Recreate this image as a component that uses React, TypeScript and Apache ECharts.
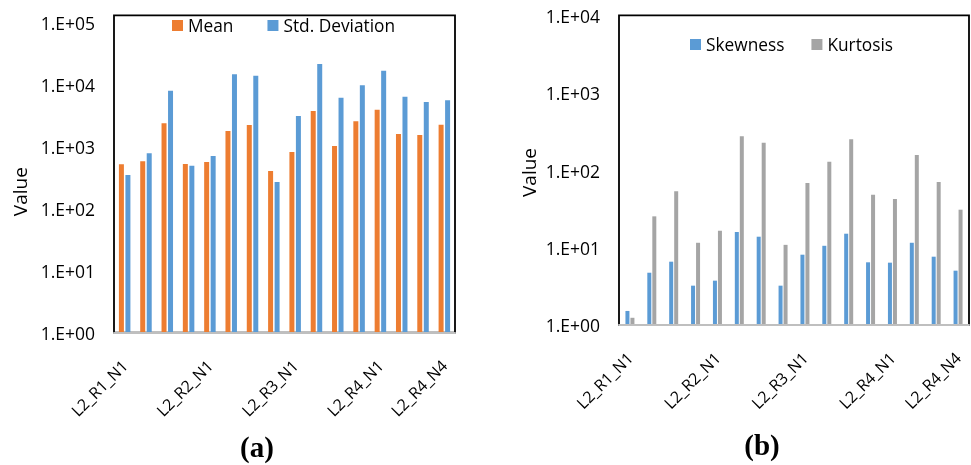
import React, { useEffect, useRef } from 'react';
import * as echarts from 'echarts';

const categories = [
  'L2_R1_N1', 'L2_R1_N2', 'L2_R1_N3', 'L2_R1_N4',
  'L2_R2_N1', 'L2_R2_N2', 'L2_R2_N3', 'L2_R2_N4',
  'L2_R3_N1', 'L2_R3_N2', 'L2_R3_N3', 'L2_R3_N4',
  'L2_R4_N1', 'L2_R4_N2', 'L2_R4_N3', 'L2_R4_N4',
];
const meanValues = [520, 582, 2385, 526, 567, 1791, 2239, 405, 822, 3767, 1026, 2570, 3953, 1603, 1545, 2264];
const stdValues = [350, 783, 8000, 494, 708, 14720, 13970, 270, 3126, 21580, 6170, 9780, 16820, 6400, 5260, 5600];
const skewValues = [1.52, 4.75, 6.6, 3.23, 3.75, 16.0, 13.9, 3.23, 8.13, 10.6, 15.2, 6.48, 6.41, 11.6, 7.66, 5.05];
const kurtValues = [1.24, 25.5, 53.8, 11.6, 16.6, 277, 229, 10.9, 68.9, 130, 253, 48.6, 42.8, 159, 71, 31.1];
const leftAxisMax = 100000;
const rightAxisMax = 10000;
const axisMin = 1;

const FONT = 'Open Sans';
const fmt = (v: number) => {
  const e = Math.round(Math.log10(v));
  return '1.E+' + (e < 10 ? '0' : '') + e;
};
const showLabel = (i: number) => i % 4 === 0 || i === categories.length - 1;

export default function App() {
  const ref = useRef<HTMLDivElement>(null);
  useEffect(() => {
    if (!ref.current) return;
    const chart = echarts.init(ref.current, undefined, { renderer: 'svg' });
    const xAxisBase = (gridIndex: number) => ({
      type: 'category' as const,
      gridIndex,
      data: categories,
      z: 10,
      axisTick: { show: false },
      axisLine: { show: true, lineStyle: { color: '#BFBFBF', width: 2 } },
      axisLabel: {
        interval: (i: number) => showLabel(i),
        rotate: 45,
        margin: 30,
        fontSize: 16,
        fontFamily: FONT,
        color: '#000',
      },
    });
    const yAxisBase = (gridIndex: number, max: number) => ({
      type: 'log' as const,
      gridIndex,
      logBase: 10,
      min: axisMin,
      max,
      splitNumber: Math.round(Math.log10(max)),
      axisLine: { show: false },
      axisTick: { show: false },
      splitLine: { show: false },
      axisLabel: { formatter: fmt, margin: 19, fontSize: 17.5, fontFamily: FONT, color: '#000' },
    });
    chart.setOption({
      animation: false,
      grid: [
        { left: 114, top: 22.7, width: 341, height: 310 },
        { left: 619, top: 16, width: 350, height: 309 },
      ],
      xAxis: [xAxisBase(0), xAxisBase(1)],
      yAxis: [yAxisBase(0, leftAxisMax), yAxisBase(1, rightAxisMax)],
      legend: [
        {
          data: ['Mean', 'Std. Deviation'],
          left: 167, top: 12, itemWidth: 11, itemHeight: 11, itemGap: 34, icon: 'rect',
          textStyle: { fontSize: 17.3, fontFamily: FONT, color: '#000' },
        },
        {
          data: ['Skewness', 'Kurtosis'],
          left: 685, top: 31, itemWidth: 11, itemHeight: 11, itemGap: 27, icon: 'rect',
          textStyle: { fontSize: 17.3, fontFamily: FONT, color: '#000' },
        },
      ],
      series: [
        { name: 'Mean', type: 'bar', xAxisIndex: 0, yAxisIndex: 0, data: meanValues, barWidth: 5, barGap: '30%', itemStyle: { color: '#ED7D31' } },
        { name: 'Std. Deviation', type: 'bar', xAxisIndex: 0, yAxisIndex: 0, data: stdValues, barWidth: 5, barGap: '30%', itemStyle: { color: '#5B9BD5' } },
        { name: 'Skewness', type: 'bar', xAxisIndex: 1, yAxisIndex: 1, data: skewValues, barWidth: 4, barGap: '25%', itemStyle: { color: '#5B9BD5' } },
        { name: 'Kurtosis', type: 'bar', xAxisIndex: 1, yAxisIndex: 1, data: kurtValues, barWidth: 4, barGap: '25%', itemStyle: { color: '#A5A5A5' } },
      ],
      graphic: [
        { type: 'rect', z: 0, shape: { x: 114, y: 15.3, width: 341, height: 317.4 }, style: { fill: 'none', stroke: '#000', lineWidth: 1.8 } },
        { type: 'rect', z: 0, shape: { x: 619, y: 15.3, width: 350, height: 309.7 }, style: { fill: 'none', stroke: '#000', lineWidth: 1.8 } },
        { type: 'text', x: 20, y: 191.7, rotation: Math.PI / 2, style: { text: 'Value', align: 'center', verticalAlign: 'middle', fontSize: 19, fontFamily: FONT, fill: '#000' } },
        { type: 'text', x: 529, y: 172.5, rotation: Math.PI / 2, style: { text: 'Value', align: 'center', verticalAlign: 'middle', fontSize: 19, fontFamily: FONT, fill: '#000' } },
        { type: 'text', x: 257, y: 447, style: { text: '(a)', align: 'center', verticalAlign: 'middle', fontSize: 29, fontWeight: 'bold', fontFamily: 'Liberation Serif', fill: '#000' } },
        { type: 'text', x: 762, y: 445, style: { text: '(b)', align: 'center', verticalAlign: 'middle', fontSize: 29, fontWeight: 'bold', fontFamily: 'Liberation Serif', fill: '#000' } },
      ],
    });
    return () => chart.dispose();
  }, []);
  return <div ref={ref} style={{ position: 'fixed', left: 0, top: 0, width: 971, height: 465 }} />;
}
